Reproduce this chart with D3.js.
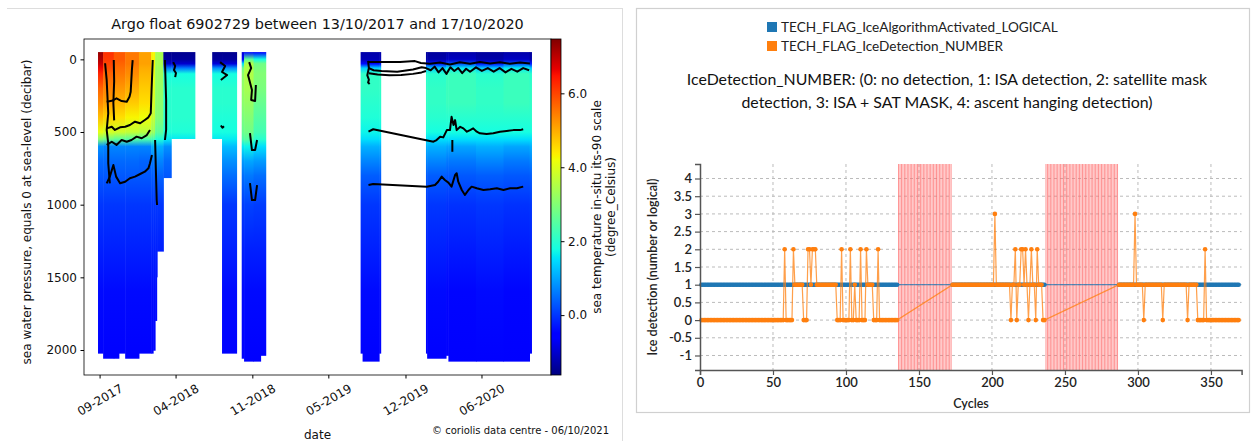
<!DOCTYPE html>
<html><head><meta charset="utf-8">
<script src="https://cdn.jsdelivr.net/npm/d3@7"></script>
<style>body{margin:0;background:#fff} svg{display:block}</style>
</head><body>
<svg id="c" width="1255" height="441"></svg>
<script>
// ---------------- LEFT PANEL DATA ----------------
const leftTitle = "Argo float 6902729 between 13/10/2017 and 17/10/2020";
const launchDate = "2017-10-13";
const dateDomainDays = [-35.6, 1150.6];            // days from launch at plot edges
const pressureDomain = [-140, 2172];
const pressureTicks = [0, 500, 1000, 1500, 2000];
const dateTickDates = ["2017-10-17","2018-04-28","2018-11-09","2019-05-21","2019-12-03","2020-06-13"];
const dateTickLabels = ["09-2017","04-2018","11-2018","05-2019","12-2019","06-2020"];
const cbarDomain = [-1.62, 7.47];
const cbarTicks = [0, 2, 4, 6];
const levels = [-50, 0, 30, 60, 100, 200, 300, 400, 500, 550, 600, 700, 800, 1000, 1300, 1600, 2100];
const profA1 = [7.3, 7.1, 6.9, 6.6, 6.3, 5.7, 5.3, 4.8, 4.1, 3.0, 0.8, 0.45, 0.3, 0.0, -0.2, -0.4, -0.55];
const profA2 = [6.2, 6.1, 6.0, 5.9, 5.7, 5.4, 5.1, 4.6, 3.9, 2.8, 0.7, 0.45, 0.3, 0.0, -0.2, -0.4, -0.55];
const profA3 = [5.8, 5.8, 5.7, 5.6, 5.5, 5.2, 4.9, 4.5, 3.8, 2.6, 0.7, 0.45, 0.3, 0.0, -0.2, -0.4, -0.55];
const profA4 = [5.5, 5.5, 5.5, 5.4, 5.3, 5.0, 4.7, 4.3, 3.7, 2.5, 0.7, 0.45, 0.3, 0.0, -0.2, -0.4, -0.55];
const profA5 = [5.1, 5.1, 5.1, 5.0, 4.9, 4.7, 4.5, 4.2, 3.6, 2.4, 0.7, 0.4, 0.3, 0.0, -0.2, -0.4, -0.55];
const profA6 = [4.3, 4.3, 4.3, 4.2, 4.1, 4.0, 3.9, 3.7, 3.3, 2.3, 1.1, 0.6, 0.35, 0.0, -0.2, -0.4, -0.55];
const profA7 = [3.4, 3.4, 3.4, 3.3, 3.3, 3.2, 3.1, 3.0, 2.6, 1.9, 1.1, 0.7, 0.4, 0.0, -0.2, -0.4, -0.55];
const profB  = [-1.5, -1.4, -1.0, 0.6, 1.8, 2.0, 2.0, 2.0, 1.9, 1.6, 0.8, 0.45, 0.3, 0.0, -0.2, -0.4, -0.55];
const profC  = [-1.5, -1.4, -0.9, 0.8, 1.8, 2.0, 2.0, 1.9, 1.8, 1.6, 1.2, 0.8, 0.5, 0.0, -0.2, -0.4, -0.55];
const profD1 = [-0.9, -0.6, 1.5, 2.8, 3.1, 3.2, 3.1, 2.9, 2.7, 2.4, 1.6, 0.9, 0.5, 0.05, -0.2, -0.4, -0.55];
const profD2 = [-0.4, 2.6, 3.5, 3.5, 3.5, 3.4, 3.2, 3.0, 2.8, 2.5, 1.7, 1.0, 0.6, 0.1, -0.2, -0.4, -0.55];
const profD3 = [-0.6, 1.8, 2.8, 2.9, 3.0, 2.9, 2.7, 2.5, 2.3, 2.0, 1.5, 0.9, 0.5, 0.05, -0.2, -0.4, -0.55];
const profE  = [-1.3, -1.2, -0.4, 1.4, 2.1, 2.1, 2.0, 1.9, 1.7, 1.5, 1.1, 0.7, 0.35, 0.0, -0.2, -0.4, -0.55];
const profF1 = [-1.4, -1.3, -0.3, 1.3, 2.0, 2.1, 2.1, 2.0, 1.8, 1.5, 1.1, 0.7, 0.35, 0.0, -0.2, -0.4, -0.55];
const profF2 = [-1.3, -1.1, 0.2, 1.6, 2.2, 2.2, 2.2, 2.0, 1.8, 1.5, 1.0, 0.6, 0.3, -0.05, -0.25, -0.45, -0.6];
const profiles = {A1:profA1,A2:profA2,A3:profA3,A4:profA4,A5:profA5,A6:profA6,A7:profA7,B:profB,C:profC,D1:profD1,D2:profD2,D3:profD3,E:profE,F1:profF1,F2:profF2};
// [start day, end day, deepest pressure, profile]
const columns = [
  [0,13,2025,"A1"],[13,40,2060,"A2"],[40,53,2060,"A3"],[53,69,2025,"A3"],[69,104,2060,"A4"],[104,135,2025,"A5"],
  [135,140,2025,"A6"],[140,145,2005,"A6"],[145,149,1800,"A7"],[149,150,1500,"A7"],[150,166,1323,"A7"],
  [166,186,817,"B"],[186,246,548,"B"],
  [290,315,548,"C"],[315,352,2025,"C"],
  [365,371,2060,"D1"],[371,395,2080,"D2"],[395,413,2080,"D3"],[413,426,2040,"D3"],
  [667,672,2025,"E"],[672,714,2080,"E"],[714,718,2025,"E"],
  [833,836,2025,"F1"],[836,884,2060,"F1"],[884,890,2040,"F2"],[890,960,2080,"F2"],[960,1030,2080,"F1"],[1030,1096,2080,"F2"],[1096,1101,2025,"F1"]
];
// contour lines: [day, pressure]
const contourA1 = [[18,27],[22,142],[26,371],[22,486],[26,578],[26,715],[30,853]];
const contourA2 = [[22,292],[35,285],[47,268],[60,287],[73,292],[80,257],[83,223],[86,74],[88,5]];
const contourA3 = [[22,475],[35,464],[43,486],[56,468],[69,464],[81,452],[94,429],[107,440],[119,417],[128,399],[134,371],[136,211],[139,5]];
const contourA4 = [[22,589],[35,567],[47,589],[60,555],[73,567],[85,555],[98,532],[111,543],[124,521],[132,486]];
const contourA5 = [[22,853],[30,807],[39,727],[46,807],[56,853],[69,842],[81,818],[94,807],[107,789],[119,773],[128,750],[132,715],[137,658]];
const contourA6 = [[145,555],[147,762],[149,968],[150,1002]];
const contourA7 = [[170,5],[173,280],[173,486],[170,555]];
const contourA8 = [[40,5],[41,150],[39,300],[41,420]];
const contourB1 = [[191,19],[196,46],[193,74],[198,94],[196,122]];
const contourC1 = [[310,19],[323,46],[315,87],[328,108],[312,142]];
const contourC2 = [[312,455],[316,470],[320,460]];
const contourD1 = [[384,19],[389,60],[381,108],[391,211],[389,280],[399,287],[401,177]];
const contourD2 = [[386,508],[391,624],[399,624],[404,555]];
const contourD3 = [[386,851],[391,968],[399,968],[404,865]];
const contourS1 = [[686,18],[716,18],[767,18],[805,12],[820,25],[843,30],[869,22],[894,35],[919,20],[945,30],[970,18],[996,28],[1021,20],[1046,30],[1072,22],[1097,28]];
const contourS2 = [[688,60],[700,75],[720,80],[760,85],[800,70],[822,55],[833,60],[845,75],[855,50],[865,90],[875,60],[885,100],[895,55],[905,80],[915,60],[925,95],[935,65],[945,85],[960,55],[975,80],[990,60],[1005,85],[1020,60],[1035,90],[1050,65],[1065,85],[1080,60],[1095,75]];
const contourS3 = [[688,95],[710,105],[740,110],[770,108],[800,100],[822,90],[833,80]];
const contourE1 = [[686,10],[688,60],[684,110],[688,140],[686,160],[690,170]];
const contourF500 = [[687,498],[699,481],[852,567],[860,555],[869,533],[877,537],[886,487],[894,487],[898,395],[903,452],[907,418],[911,487],[920,464],[928,475],[937,498],[945,487],[953,475],[962,498],[970,509],[987,514],[1004,509],[1021,498],[1038,493],[1055,487],[1072,487],[1080,481]];
const contourF880 = [[687,865],[699,858],[835,876],[856,865],[864,842],[873,807],[881,830],[890,848],[898,876],[907,796],[911,784],[915,842],[924,899],[932,933],[941,899],[949,876],[962,887],[979,899],[996,894],[1013,887],[1030,899],[1047,887],[1064,887],[1080,876]];
const contourFmark = [[900,555],[900,636]];
const contours = [contourA1,contourA2,contourA3,contourA4,contourA5,contourA6,contourA7,contourA8,contourB1,contourC1,contourC2,contourD1,contourD2,contourD3,contourS1,contourS2,contourS3,contourE1,contourF500,contourF880,contourFmark];

// ---------------- RIGHT PANEL DATA ----------------
const legendLabels = ["TECH_FLAG_IceAlgorithmActivated_LOGICAL","TECH_FLAG_IceDetection_NUMBER"];
const rightTitle = ["IceDetection_NUMBER: (0: no detection, 1: ISA detection, 2: satellite mask","detection, 3: ISA + SAT MASK, 4: ascent hanging detection)"];
const cycleDomain = [0, 371];
const valueDomain = [-1.41, 4.41];
const cycleTicks = [0,50,100,150,200,250,300,350];
const valueTicks = [-1,-0.5,0,0.5,1,1.5,2,2.5,3,3.5,4];
// runs: [first cycle, last cycle, value]
const activatedRuns = [[1,135,1],[173,236,1],[287,369,1]];
const detectionRuns = [
  [1,57,0],[58,58,2],[59,63,0],[64,64,2],[65,70,1],[71,73,0],[74,75,2],[76,76,1],[77,79,2],[80,93,1],[94,96,0],[97,97,2],
  [98,102,0],[103,103,2],[104,105,0],[106,106,1],[107,109,0],[110,110,2],[111,113,0],[114,114,2],[115,118,1],[119,121,0],[122,122,2],[123,135,0],
  [173,201,1],[202,202,3],[203,212,1],[213,213,0],[214,215,1],[216,216,2],[217,217,0],[218,219,1],[220,221,2],[222,222,1],[223,223,2],[224,224,1],
  [225,225,0],[226,226,1],[227,227,2],[228,229,1],[230,230,0],[231,231,2],[232,234,1],[235,236,0],
  [287,297,1],[298,298,3],[299,303,1],[304,304,0],[305,316,1],[317,317,0],[318,333,1],[334,334,0],[335,340,1],[341,345,0],[346,346,2],[347,369,0]
];
const missingRuns = [[136,172],[237,286]];

// ---------------- DRAW ----------------
const svg = d3.select("#c");
const defs = svg.append("defs");
const dayMs = 864e5;
const t0 = new Date(launchDate + "T00:00:00").getTime();
const dayToDate = d => new Date(t0 + d * dayMs);

const xL = d3.scaleTime().domain(dateDomainDays.map(dayToDate)).range([84, 551]);
const yL = d3.scaleLinear().domain(pressureDomain).range([39, 375]);

const jetKnots = [0,0.11,0.125,0.34,0.35,0.375,0.64,0.65,0.66,0.89,0.91,1];
const jetColors = ["#000080","#0000ff","#0000ff","#00dbff","#00e6f7","#15ffe2","#efff08","#f7f600","#ffec00","#ff1300","#e80000","#800000"];
const jet = d3.scaleLinear().domain(jetKnots).range(jetColors).interpolate(d3.interpolateRgb).clamp(true);
const tNorm = d3.scaleLinear().domain(cbarDomain).range([0,1]).clamp(true);
const tempColor = t => jet(tNorm(t));

// panel borders
svg.append("line").attr("x1",7).attr("x2",623).attr("y1",8.5).attr("y2",8.5).attr("stroke","#ddd");
svg.append("line").attr("x1",622.5).attr("x2",622.5).attr("y1",8).attr("y2",441).attr("stroke","#ddd");
svg.append("rect").attr("x",636.5).attr("y",8.5).attr("width",613).attr("height",404).attr("fill","none").attr("stroke","#d0d0d0").attr("stroke-width",1.2);

const F = "'DejaVu Sans', sans-serif";
svg.append("text").attr("x",317.5).attr("y",29).attr("text-anchor","middle").attr("font-family",F).attr("font-size",14.4).attr("fill","#111").text(leftTitle);

defs.append("clipPath").attr("id","clipL").append("rect").attr("x",84).attr("y",39).attr("width",467).attr("height",336);
const heat = svg.append("g").attr("clip-path","url(#clipL)");
const gy0 = yL(levels[0]), gy1 = yL(levels[levels.length-1]);
columns.forEach((c,i) => {
  const prof = profiles[c[3]];
  const g = defs.append("linearGradient").attr("id","col"+i).attr("gradientUnits","userSpaceOnUse")
    .attr("x1",0).attr("x2",0).attr("y1",gy0).attr("y2",gy1);
  levels.forEach((lv,j) => g.append("stop").attr("offset",(yL(lv)-gy0)/(gy1-gy0)).attr("stop-color",tempColor(prof[j])));
  const x0 = xL(dayToDate(c[0])), x1 = xL(dayToDate(c[1]));
  heat.append("rect").attr("x",x0).attr("y",gy0).attr("width",x1-x0+0.5).attr("height",yL(c[2])-gy0).attr("fill",`url(#col${i})`);
});
const cLine = d3.line().x(d => xL(dayToDate(d[0]))).y(d => yL(d[1]));
heat.selectAll("path.ct").data(contours).join("path").attr("class","ct").attr("d",cLine)
  .attr("fill","none").attr("stroke","#000").attr("stroke-width",2).attr("stroke-linejoin","round");

svg.append("rect").attr("x",84).attr("y",39).attr("width",467).attr("height",336).attr("fill","none").attr("stroke","#000").attr("stroke-width",0.8);

// left axes
const yAxL = svg.append("g").attr("transform","translate(84,0)").call(d3.axisLeft(yL).tickValues(pressureTicks).tickSize(3.5).tickSizeOuter(0).tickPadding(3.5).tickFormat(d3.format("d")));
yAxL.select(".domain").remove();
yAxL.selectAll("text").attr("font-family",F).attr("font-size",12).attr("fill","#111");
const xAxL = svg.append("g").attr("transform","translate(0,375)").call(d3.axisBottom(xL).tickValues(dateTickDates.map(s=>new Date(s+"T00:00:00"))).tickSize(3.5).tickSizeOuter(0).tickFormat((d,i)=>dateTickLabels[i]));
xAxL.select(".domain").remove();
xAxL.selectAll("text").attr("font-family",F).attr("font-size",12).attr("fill","#111")
  .attr("text-anchor","middle").attr("dy",null).attr("y",0).attr("dominant-baseline","central")
  .attr("transform","translate(0,25) rotate(-30)");
svg.append("text").attr("transform","translate(27,212) rotate(-90)").attr("text-anchor","middle").attr("dominant-baseline","central")
  .attr("font-family",F).attr("font-size",12).attr("fill","#111").text("sea water pressure, equals 0 at sea-level (decibar)");
svg.append("text").attr("x",317.5).attr("y",439).attr("text-anchor","middle").attr("font-family",F).attr("font-size",12).attr("fill","#111").text("date");
svg.append("text").attr("x",609).attr("y",434).attr("text-anchor","end").attr("font-family",F).attr("font-size",10).attr("fill","#111").text("© coriolis data centre - 06/10/2021");

// colorbar
const cb = defs.append("linearGradient").attr("id","cbar").attr("x1",0).attr("x2",0).attr("y1",1).attr("y2",0);
jetKnots.forEach((k,i)=>cb.append("stop").attr("offset",k).attr("stop-color",jetColors[i]));
svg.append("rect").attr("x",551).attr("y",39).attr("width",10).attr("height",336).attr("fill","url(#cbar)").attr("stroke","#000").attr("stroke-width",0.8);
const yC = d3.scaleLinear().domain(cbarDomain).range([375,39]);
const cAx = svg.append("g").attr("transform","translate(561,0)").call(d3.axisRight(yC).tickValues(cbarTicks).tickSize(3.5).tickPadding(3.5).tickFormat(d3.format(".1f")));
cAx.select(".domain").remove();
cAx.selectAll("text").attr("font-family",F).attr("font-size",12).attr("fill","#111");
const cl = svg.append("text").attr("transform","translate(604,207) rotate(-90)").attr("text-anchor","middle").attr("font-family",F).attr("font-size",12).attr("fill","#111");
cl.append("tspan").attr("x",0).attr("dy","-0.25em").text("sea temperature in-situ its-90 scale");
cl.append("tspan").attr("x",0).attr("dy","1.2em").text("(degree_Celsius)");

// ---------------- RIGHT PANEL ----------------
const FR = "Lato, 'Open Sans', sans-serif";
const xR = d3.scaleLinear().domain(cycleDomain).range([700, 1241.6]);
const yR = d3.scaleLinear().domain(valueDomain).range([370, 164]);
const serColors = ["#1f77b4","#ff7f0e"];

legendLabels.forEach((lab,i)=>{
  svg.append("rect").attr("x",767).attr("y",22+i*19).attr("width",10).attr("height",10).attr("fill",serColors[i]);
  svg.append("text").attr("x",781).attr("y",27+i*19).attr("dominant-baseline","central").attr("font-family",FR).attr("font-size",13.6).attr("fill","#222").text(lab);
});
rightTitle.forEach((t,i)=>svg.append("text").attr("x",947).attr("y",78+i*23.5).attr("text-anchor","middle").attr("dominant-baseline","central")
  .attr("font-family",FR).attr("font-size",15.9).attr("fill","#111").text(t));

// grid
const grid = svg.append("g").attr("stroke","#bbb").attr("stroke-dasharray","3,3").attr("stroke-width",1);
valueTicks.forEach(v=>grid.append("line").attr("x1",700).attr("x2",1241.6).attr("y1",yR(v)).attr("y2",yR(v)));
cycleTicks.filter(c=>c>0).forEach(c=>grid.append("line").attr("x1",xR(c)).attr("x2",xR(c)).attr("y1",164).attr("y2",370));

// missing cycle bands
const band = svg.append("g");
missingRuns.forEach(([a,b])=>{
  d3.range(a,b+1).forEach(c=>band.append("rect").attr("x",xR(c)-0.5).attr("y",164).attr("width",1).attr("height",206).attr("fill","#ff6f6f").attr("opacity",0.75));
});

const expand = runs => runs.flatMap(([a,b,v]) => d3.range(a,b+1).map(c=>({c,v})));
const series = [expand(activatedRuns), expand(detectionRuns)];
const rLine = d3.line().x(d=>xR(d.c)).y(d=>yR(d.v));
series.forEach((s,i)=>{
  const g = svg.append("g");
  g.append("path").attr("d",rLine(s)).attr("fill","none").attr("stroke",serColors[i]).attr("stroke-width",1.2).attr("stroke-opacity",0.75);
  g.selectAll("circle").data(s).join("circle").attr("cx",d=>xR(d.c)).attr("cy",d=>yR(d.v)).attr("r",2.3).attr("fill",serColors[i]);
});

// axes
const yAxR = svg.append("g").attr("transform","translate(700,0)").call(d3.axisLeft(yR).tickValues(valueTicks).tickSize(5).tickSizeOuter(5).tickFormat(d=>String(d)));
const xAxR = svg.append("g").attr("transform","translate(0,370)").call(d3.axisBottom(xR).tickValues(cycleTicks).tickSize(5).tickSizeOuter(5));
[yAxR,xAxR].forEach(a=>{
  a.select(".domain").attr("stroke","#555").attr("stroke-width",1.5);
  a.selectAll(".tick line").attr("stroke","#555").attr("stroke-width",1.2);
  a.selectAll("text").attr("font-family",FR).attr("font-size",13).attr("font-weight",600).attr("fill","#222");
});
svg.append("text").attr("x",971).attr("y",403).attr("text-anchor","middle").attr("dominant-baseline","central")
  .attr("font-family",FR).attr("font-size",12.5).attr("font-weight",600).attr("fill","#222").text("Cycles");
svg.append("text").attr("transform","translate(652,267) rotate(-90)").attr("text-anchor","middle").attr("dominant-baseline","central")
  .attr("font-family",FR).attr("font-size",12.5).attr("font-weight",600).attr("fill","#222").text("Ice detection (number or logical)");
</script></body></html>
